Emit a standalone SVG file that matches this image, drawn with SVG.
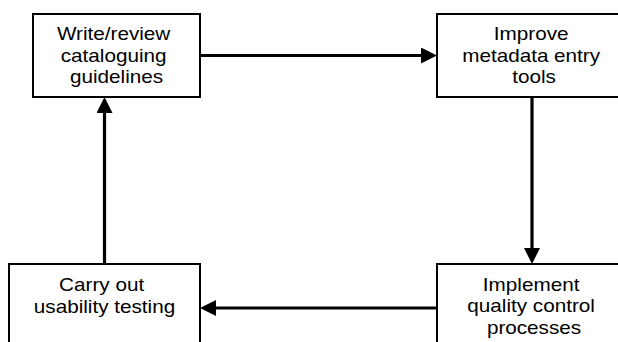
<svg xmlns="http://www.w3.org/2000/svg" width="618" height="342" viewBox="0 0 618 342">
  <style>
    .box { fill: #ffffff; stroke: #000000; stroke-width: 2; }
    .lbl { font-family: "Liberation Sans", Arial, sans-serif; font-size: 18px; fill: #000000; text-anchor: middle; }
    .conn { fill: none; stroke: #000000; stroke-width: 3.2; }
  </style>
  <defs>
    <marker id="arrow" viewBox="0 0 16 16" refX="8" refY="8" markerWidth="16" markerHeight="16" markerUnits="userSpaceOnUse" orient="auto">
      <path d="M0,0 L16,8 L0,16 z" fill="#000000"/>
    </marker>
  </defs>
  <rect width="618" height="342" fill="#ffffff"/>

  <g id="node-write">
    <rect class="box" x="33" y="14" width="167" height="83"/>
    <text class="lbl" transform="matrix(1.15 0 0 1 116.5 0)">
      <tspan x="0" y="40.5">Write/review</tspan>
      <tspan x="0" y="62">cataloguing</tspan>
      <tspan x="0" y="83.5">guidelines</tspan>
    </text>
  </g>

  <g id="node-improve">
    <rect class="box" x="437" y="14" width="195" height="83"/>
    <text class="lbl" transform="matrix(1.15 0 0 1 534 0)">
      <tspan x="0" y="40.5">Improve</tspan>
      <tspan x="0" y="62">metadata entry</tspan>
      <tspan x="0" y="83.5">tools</tspan>
    </text>
  </g>

  <g id="node-implement">
    <rect class="box" x="437" y="264" width="195" height="90"/>
    <text class="lbl" transform="matrix(1.15 0 0 1 534 0)">
      <tspan x="0" y="291">Implement</tspan>
      <tspan x="0" y="312.5">quality control</tspan>
      <tspan x="0" y="334">processes</tspan>
    </text>
  </g>

  <g id="node-usability">
    <rect class="box" x="9" y="264" width="191" height="90"/>
    <text class="lbl" transform="matrix(1.15 0 0 1 104.5 0)">
      <tspan x="0" y="291.5">Carry out</tspan>
      <tspan x="0" y="313">usability testing</tspan>
    </text>
  </g>

  <g id="connectors">
    <path class="conn" d="M200,55.5 L429,55.5" marker-end="url(#arrow)"/>
    <path class="conn" d="M532,97 L532,256" marker-end="url(#arrow)"/>
    <path class="conn" d="M437,308 L208,308" marker-end="url(#arrow)"/>
    <path class="conn" d="M104.5,264 L104.5,105" marker-end="url(#arrow)"/>
  </g>
</svg>
